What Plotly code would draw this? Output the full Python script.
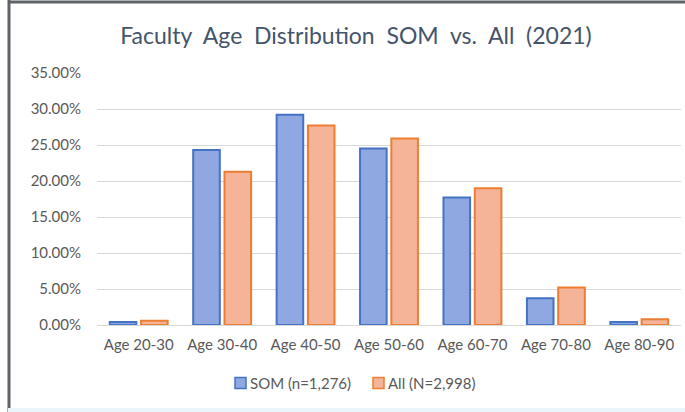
import plotly.graph_objects as go

categories = ["Age 20-30", "Age 30-40", "Age 40-50", "Age 50-60", "Age 60-70", "Age 70-80", "Age 80-90"]
som_values = [0.004, 0.243, 0.292, 0.245, 0.177, 0.037, 0.004]
all_values = [0.006, 0.213, 0.277, 0.259, 0.190, 0.052, 0.008]
som_name = "SOM (n=1,276)"
all_name = "All (N=2,998)"
title_text = "Faculty  Age  Distribution  SOM  vs.  All  (2021)"

FONT = "Lato, Carlito, Calibri, sans-serif"
SOM_FILL, SOM_LINE = "#8FA8E2", "#4472C4"
ALL_FILL, ALL_LINE = "#F5B498", "#ED7D31"

fig = go.Figure()
fig.add_trace(go.Bar(
    x=categories, y=som_values, name=som_name,
    marker=dict(color=SOM_FILL, line=dict(color=SOM_LINE, width=2)),
))
fig.add_trace(go.Bar(
    x=categories, y=all_values, name=all_name,
    marker=dict(color=ALL_FILL, line=dict(color=ALL_LINE, width=2)),
))

L, R, T, B = 97, 4, 73, 87
W, H = 685, 412
pw, ph = W - L - R, H - T - B

def px_x(p):
    return (p - L) / pw

def px_y(p):
    return (H - B - p) / ph

# manual legend (symbol squares + text)
legend_items = [(som_name, SOM_FILL, SOM_LINE, 235), (all_name, ALL_FILL, ALL_LINE, 373)]
shapes = [
    dict(type="line", xref="paper", yref="paper", x0=px_x(9), x1=px_x(9),
         y0=px_y(0), y1=px_y(412), line=dict(color="#5F6368", width=3)),
    dict(type="line", xref="paper", yref="paper", x0=px_x(8), x1=px_x(685),
         y0=px_y(2), y1=px_y(2), line=dict(color="#5F6368", width=3)),
    dict(type="line", xref="paper", yref="paper", x0=px_x(8), x1=px_x(685),
         y0=px_y(410), y1=px_y(410), line=dict(color="#EAF4FB", width=4)),
]
annotations = []
for name, fill, line, x0 in legend_items:
    shapes.append(dict(type="rect", xref="paper", yref="paper",
                       x0=px_x(x0), x1=px_x(x0 + 11), y0=px_y(388.5), y1=px_y(377.5),
                       fillcolor=fill, line=dict(color=line, width=1.5)))
    annotations.append(dict(text=name, xref="paper", yref="paper",
                            x=px_x(x0 + 13), y=px_y(383), xanchor="left", yanchor="middle",
                            showarrow=False, font=dict(family=FONT, size=15, color="#595959")))

fig.update_layout(
    width=W, height=H,
    margin=dict(l=L, r=R, t=T, b=B),
    paper_bgcolor="white", plot_bgcolor="white",
    barmode="group", bargap=0.25, bargroupgap=0.15,
    font=dict(family=FONT, color="#595959", size=15),
    title=dict(text=title_text, x=px_x(356), xref="paper", xanchor="center",
               y=1 - 36 / H, yanchor="middle",
               font=dict(family=FONT, size=23, color="#44546A")),
    showlegend=False,
    xaxis=dict(showgrid=False, showline=True, linecolor="#D9D9D9", linewidth=1,
               ticks="", ticklabelstandoff=6, tickfont=dict(size=15, color="#595959")),
    yaxis=dict(range=[0, 0.35], dtick=0.05, tickformat=".2%",
               showgrid=True, gridcolor="#D9D9D9", gridwidth=1,
               zeroline=False, showline=False, ticks="",
               ticklabelstandoff=15,
               tickfont=dict(size=15, color="#595959")),
    shapes=shapes,
    annotations=annotations,
)

fig.write_html(
    "out.html",
    config={"displayModeBar": False},
    post_script=(
        "document.body.style.margin='0';"
        "document.body.style.overflow='hidden';"
        "document.documentElement.style.overflow='hidden';"
        "document.documentElement.style.scrollbarWidth='none';"
        "document.body.style.scrollbarWidth='none';"
    ),
)
